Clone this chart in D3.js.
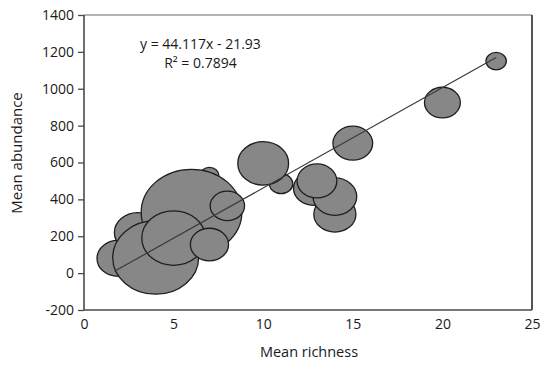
<!DOCTYPE html>
<html>
<head>
<meta charset="utf-8">
<script src="https://cdn.jsdelivr.net/npm/d3@7"></script>
<style>
  body { margin: 0; background: #fff; }
  text { font-family: "Open Sans", sans-serif; fill: #1a1a1a; }
</style>
</head>
<body>
<div class="chart"></div>
<script>
// Bubble data (drawn in this order, later ones on top)
var richness  = [7, 1.9, 3, 6, 4, 5, 7, 8, 11, 10, 14, 12.8, 14, 13, 15, 20, 23];
var abundance = [530, 80, 220, 330, 85, 190, 155, 365, 485, 595, 320, 460, 415, 500, 705, 925, 1150];
var bubbleSize = [3.5, 17.5, 21.6, 100, 73, 40, 14.4, 11.7, 5.4, 25.5, 17.5, 15.6, 18.9, 15.6, 15.6, 12.7, 4.1];

// Trend line as drawn in the figure
var trendX = [1.7, 23];
var trendY = [10, 1170];

var xTicks = [0, 5, 10, 15, 20, 25];
var yTicks = [-200, 0, 200, 400, 600, 800, 1000, 1200, 1400];

var svgWidth = 549;
var svgHeight = 366;

var margin = { top: 15, right: 17, bottom: 56, left: 84 };
var width = svgWidth - margin.left - margin.right;
var height = svgHeight - margin.top - margin.bottom;

var svg = d3.select(".chart")
  .append("svg")
  .attr("width", svgWidth)
  .attr("height", svgHeight);

var chartGroup = svg.append("g")
  .attr("transform", `translate(${margin.left}, ${margin.top})`);

// Scales
var xScale = d3.scaleLinear().domain([0, 25]).range([0, width]);
var yScale = d3.scaleLinear().domain([-200, 1400]).range([height, 0]);
var rScale = d3.scaleSqrt().domain([0, 100]).range([0, 43]);
var stretch = 1.17; // bubbles are a bit wider than tall

var bubbles = richness.map((d, i) => ({ x: d, y: abundance[i], s: bubbleSize[i] }));

// Frame: top and right edges
chartGroup.append("line")
  .attr("x1", 0).attr("x2", width).attr("y1", 0).attr("y2", 0)
  .attr("stroke", "#6a6a6a").attr("stroke-width", 1.2);
chartGroup.append("line")
  .attr("x1", width).attr("x2", width).attr("y1", 0).attr("y2", height)
  .attr("stroke", "#555").attr("stroke-width", 2);

// Bubbles
chartGroup.selectAll("ellipse")
  .data(bubbles)
  .enter()
  .append("ellipse")
  .attr("cx", d => xScale(d.x))
  .attr("cy", d => yScale(d.y))
  .attr("rx", d => rScale(d.s) * stretch)
  .attr("ry", d => rScale(d.s))
  .attr("fill", "#878787")
  .attr("stroke", "#1e1e1e")
  .attr("stroke-width", 1.3);

// Trend line
chartGroup.append("line")
  .attr("x1", xScale(trendX[0])).attr("y1", yScale(trendY[0]))
  .attr("x2", xScale(trendX[1])).attr("y2", yScale(trendY[1]))
  .attr("stroke", "#3a3a3a")
  .attr("stroke-width", 1.2);

// Axes (plain hyphen minus, no thousands separator)
var leftAxis = d3.axisLeft(yScale).tickValues(yTicks).tickFormat(d => String(d))
  .tickSize(6).tickPadding(4);
var bottomAxis = d3.axisBottom(xScale).tickValues(xTicks).tickFormat(d => String(d))
  .tickSize(0).tickPadding(9);

var yAxisG = chartGroup.append("g").call(leftAxis);
var xAxisG = chartGroup.append("g")
  .attr("transform", `translate(0, ${height})`)
  .call(bottomAxis);

[yAxisG, xAxisG].forEach(g => {
  g.select(".domain").attr("stroke", "#4a4a4a").attr("stroke-width", 1.6);
  g.selectAll(".tick line").attr("stroke", "#4a4a4a").attr("stroke-width", 1.3);
  g.selectAll(".tick text")
    .style("font-family", "'Open Sans', sans-serif")
    .style("font-size", "14px")
    .attr("fill", "#1a1a1a");
});
yAxisG.select(".domain").attr("d", `M0,0V${height}`);
xAxisG.select(".domain").attr("d", `M0,0H${width}`);

// Regression equation
chartGroup.append("text")
  .attr("x", xScale(6.5))
  .attr("y", 34)
  .attr("text-anchor", "middle")
  .style("font-size", "14px")
  .text("y = 44.117x - 21.93");

chartGroup.append("text")
  .attr("x", xScale(6.5))
  .attr("y", 52.5)
  .attr("text-anchor", "middle")
  .style("font-size", "14px")
  .text("R² = 0.7894");

// Axis labels
svg.append("text")
  .attr("transform", "rotate(-90)")
  .attr("x", -153)
  .attr("y", 22)
  .attr("text-anchor", "middle")
  .style("font-size", "15px")
  .text("Mean abundance");

svg.append("text")
  .attr("x", 309)
  .attr("y", 357)
  .attr("text-anchor", "middle")
  .style("font-size", "14.5px")
  .text("Mean richness");
</script>
</body>
</html>
